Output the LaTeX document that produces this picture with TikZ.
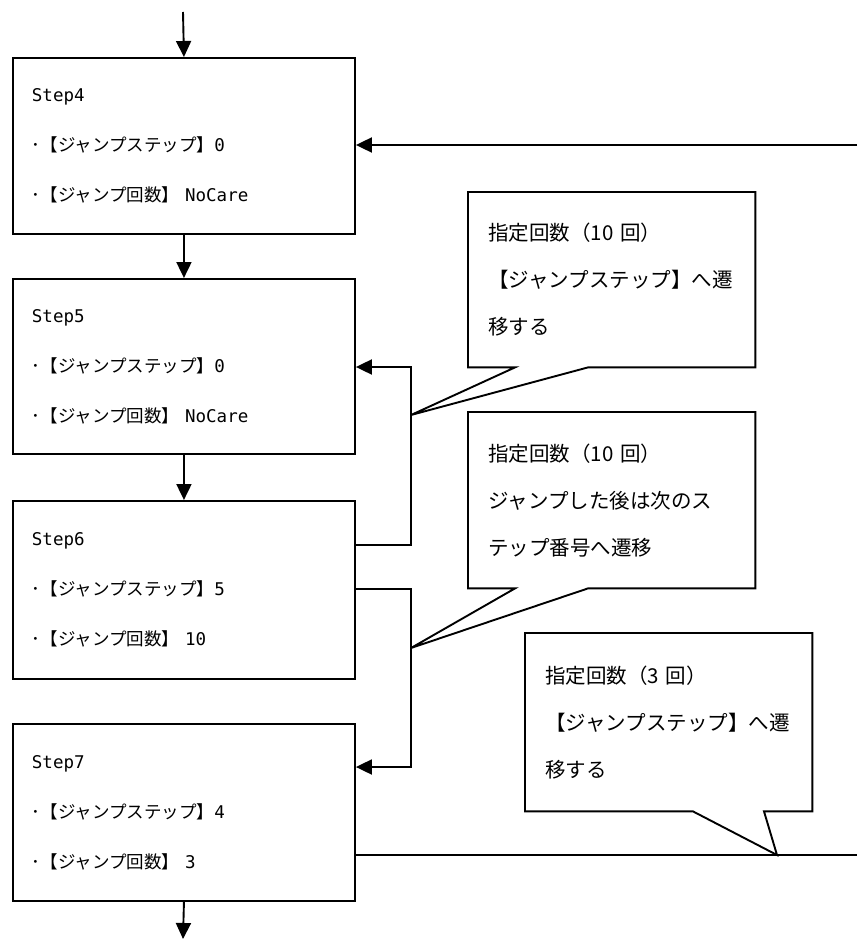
\documentclass[tikz,border=0pt]{standalone}
\usepackage{fontspec}
\usetikzlibrary{arrows.meta,calc,positioning}
\newfontfamily\jpfont{Noto Sans CJK JP}
\newfontfamily\latinmono{DejaVu Sans Mono}
\newcommand\stepfont{\fontsize{17.5pt}{50pt}\selectfont\latinmono}
\newcommand\bubblefont{\fontsize{20.5pt}{47pt}\selectfont\jpfont}
\tikzset{
  stepbox/.style={rectangle,draw,line width=1.9pt,anchor=north west,minimum width=342pt,text width=304pt,inner xsep=19pt,align=left,font=\stepfont},
  bubble/.style={rectangle,anchor=north west,minimum width=287pt,text width=247pt,inner xsep=20pt,align=left,font=\bubblefont},
  outline/.style={line width=1.9pt,line join=miter},
  flow/.style={-{Triangle[length=16pt,width=15pt]},line width=1.9pt},
  tail/.style={line width=1.5pt},
}
\begin{document}
\begin{tikzpicture}[x=1pt,y=-1pt]
  \useasboundingbox (0,0) rectangle (857,939);
  \node[stepbox,minimum height=176pt] (s4) at (12,57) {Step4\\{\jpfont ･【ジャンプステップ】}0\\{\jpfont ･【ジャンプ回数】} NoCare};
  \node[stepbox,minimum height=175pt] (s5) at (12,278) {Step5\\{\jpfont ･【ジャンプステップ】}0\\{\jpfont ･【ジャンプ回数】} NoCare};
  \node[stepbox,minimum height=178pt] (s6) at (12,500) {Step6\\{\jpfont ･【ジャンプステップ】}5\\{\jpfont ･【ジャンプ回数】} 10};
  \node[stepbox,minimum height=177pt] (s7) at (12,723) {Step7\\{\jpfont ･【ジャンプステップ】}4\\{\jpfont ･【ジャンプ回数】} 3};
  \coordinate (in) at (183,12);
  \coordinate (out) at (183,939);
  \coordinate (back) at (857,145);
  \coordinate (up) at (411,367);
  \coordinate (dn) at (411,767);
  \coordinate (end) at (857,855);
  \draw[flow] (in) -- (s4.north);
  \draw[flow] (s4.south) -- (s5.north);
  \draw[flow] (s5.south) -- (s6.north);
  \draw[flow] (s7.south) -- (out);
  \draw[flow] (back) -- (back -| s4.east);
  \draw[flow] ([yshift=-45pt]s6.north east) -| (up) -- (up -| s5.east);
  \draw[flow] ([yshift=-89pt]s6.north east) -| (dn) -- (dn -| s7.east);
  \draw[tail] (s7.east |- end) -- (end);
  \node[bubble,minimum height=175pt] (c1) at (468,192) {指定回数（10 回）\\【ジャンプステップ】へ遷\\移する};
  \node[bubble,minimum height=176pt] (c2) at (468,412) {指定回数（10 回）\\ジャンプした後は次のス\\テップ番号へ遷移};
  \node[bubble,minimum height=178pt] (c3) at (525,633) {指定回数（3 回）\\【ジャンプステップ】へ遷\\移する};
  \coordinate (t1) at (411,415);
  \coordinate (t2) at (411,648);
  \coordinate (t3) at (777,855);
  \draw[outline] (c1.north west) -- (c1.north east) -- (c1.south east) -- ([xshift=120pt]c1.south west) -- (t1) -- ([xshift=47pt]c1.south west) -- (c1.south west) -- cycle;
  \draw[outline] (c2.north west) -- (c2.north east) -- (c2.south east) -- ([xshift=120pt]c2.south west) -- (t2) -- ([xshift=47pt]c2.south west) -- (c2.south west) -- cycle;
  \draw[outline] (c3.north west) -- (c3.north east) -- (c3.south east) -- ([xshift=239pt]c3.south west) -- (t3) -- ([xshift=168pt]c3.south west) -- (c3.south west) -- cycle;
\end{tikzpicture}
\end{document}
